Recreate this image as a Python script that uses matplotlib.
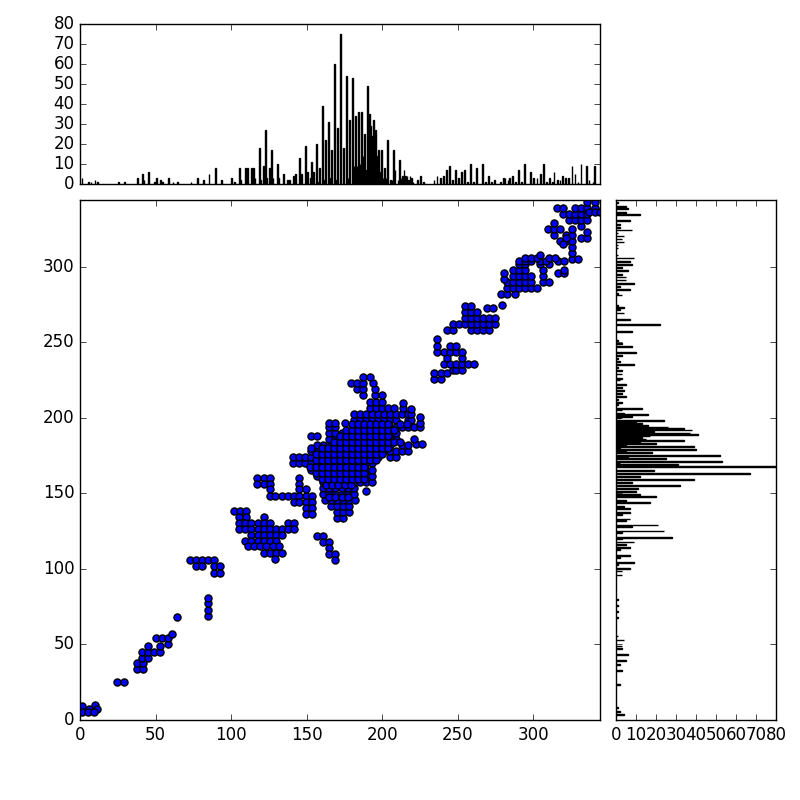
import numpy as np
import matplotlib
matplotlib.use('Agg')
import matplotlib.pyplot as plt

plt.style.use('classic')

row_y = [
    9.5, 10, 7.3, 5.6, 25.3, 33.9, 37.9, 41.2, 45.2, 49.1, 50.5, 54.5, 57.1, 68.4,
    69.1, 73.1, 77.1, 81, 105.6, 101.6, 97.4,
    138.1, 134.1, 130.1, 126.1, 122.1, 118.1, 115.3, 110.2, 106.2,
    121.5, 117.5, 113.5, 109.5, 105.6,
    160.4, 156.4, 152.5, 148.5, 144.5, 140.5, 136.5,
    133.7, 137.7, 141.7, 145.7, 149.7, 153.7, 151.7, 157.7, 161.7, 165.7, 169.7, 173.7, 177.7, 181.7, 182.7, 185.7, 187.7, 179.7,
    189.7, 193.7, 196.7, 198.7, 200.7, 202.7, 205.7, 206.7, 209.7, 210.7, 214.7, 218.7, 222.7, 226.7,
    147.7, 155.7, 159.7, 163.7, 167.7, 171.7, 175.7, 180.2, 183.7, 188.2, 191.7, 195.7,
    225.4, 229.3, 231.6, 235.3, 239.3, 243.7, 247.7, 251.9,
    257.7, 261.9, 265.8, 269.8, 273.8, 272.5, 274.5,
    281.8, 285.7, 289.7, 291.7, 295.7, 293.7, 297.7, 301.5, 303.7, 305.7, 307.9, 305, 309, 313,
    316.9, 320.9, 324.9, 318.9, 315, 322.9, 326.9, 328.9, 330.9, 334.9, 338.9, 336.2, 342.8,
]
row_x = [
    [1.2], [9.8], [6, 11.1], [1.2, 5.2, 9.4], [24.8, 29], [37.4, 41.6], [37.4, 41.6], [40.9, 44.9],
    [40.9, 44.9, 48.9, 52.6], [44.9, 52.6], [57.9], [50, 54, 58.1], [60.8], [63.9],
    [84.6], [84.6], [84.6], [84.6], [72.5, 76.5, 80.7, 84.6, 88.6], [76.5, 80.7, 88.6, 92.6], [88.6, 92.6],
    [101.6, 105.8, 109.8], [105.4, 109.8, 121.7],
    [105.4, 109.4, 113.3, 117.7, 121.7, 125.7, 137.4, 141.4],
    [105.4, 109.4, 113.3, 117.7, 121.7, 125.7, 129.7, 133.6, 137.4, 141.4],
    [113.3, 117.7, 121.7, 125.7, 129.7, 133.6], [108.9, 113.3, 117.7, 121.7, 125.7, 129.7],
    [110.9, 114.9, 119.1, 123.1, 127.5, 131.4], [121.7, 125.7, 129.7, 133.6], [129],
    [156.6, 160.6], [160.6, 164.5], [164.5], [164.5, 168.5], [168.5],
    [117.4, 121.4, 125.4, 145.2], [117.4, 121.4, 125.4, 145.2], [125.4, 145.2, 149.2],
    [125.4, 129.3, 133.3, 137.3, 141.3, 145.2, 149.2, 153.2], [141.3, 145.2, 149.2, 153.2],
    [149.2, 153.2], [149.2, 153.2],
    [170, 174], [170, 174, 178], [166, 170, 174, 178], [162, 166, 170, 174, 178, 182],
    [161, 165, 169, 173, 177, 181], [161, 165, 169, 173, 177, 181], [189],
    [161, 165, 169, 173, 177, 181, 185, 189, 193],
    [157, 161, 165, 169, 173, 177, 181, 185, 189, 193],
    [153, 157, 161, 165, 169, 173, 177, 181, 185, 189, 193],
    [141, 145, 149, 153, 157, 161, 165, 169, 173, 177, 181, 185, 189, 193],
    [141, 145, 149, 153, 157, 161, 165, 169, 173, 177, 181, 185, 189, 193, 197, 205, 209],
    [153, 157, 161, 165, 169, 173, 177, 181, 185, 189, 193, 197, 201, 205, 209, 213, 217],
    [157, 161, 165, 169, 173, 177, 181, 185, 189, 193, 197, 201, 205, 213, 217],
    [222, 226],
    [165, 169, 173, 177, 181, 185, 189, 193, 197, 201, 205, 209, 221],
    [153, 157], [153],
    [165, 169, 173, 177, 181, 185, 189, 193, 197, 201, 205, 209],
    [165, 169, 181, 185, 189, 193, 197, 201, 205, 209, 213, 217, 221, 225],
    [165, 169, 175, 225],
    [181, 185, 189, 193, 197, 201, 205, 209, 217, 219],
    [225],
    [181, 185, 189, 193, 197, 201, 205, 209, 213, 217, 219],
    [219], [192, 196, 200, 204, 208, 214], [214], [192, 196, 200], [187, 195, 200],
    [183, 187, 195], [179, 183, 187, 194], [187, 192],
    [165, 169, 173, 177],
    [163, 167, 171, 175, 179],
    [160, 164, 168, 172, 176, 180, 184, 188],
    [156, 160, 164, 168, 172, 176, 180, 184, 188],
    [152, 156, 160, 164, 168, 172, 176, 180, 184, 188],
    [156, 160, 164, 168, 172, 176, 180, 184, 188, 192, 196],
    [156, 160, 164, 168, 172, 176, 180, 184, 188, 192, 196, 200],
    [160, 164, 168, 172, 176, 180, 184, 188, 192, 196, 200, 204],
    [168, 172, 176, 180, 184, 188, 192, 196, 200, 204, 208, 212],
    [172, 176, 180, 184, 188, 192, 196, 200, 204],
    [176, 180, 184, 188, 192, 196, 200, 204, 208],
    [180, 184, 188, 192, 196, 200, 204, 212, 216],
    [234, 238.8], [234, 238.8, 242.8], [246.8, 248.5, 252.5],
    [240.6, 244.6, 248.5, 252.5, 256.5, 260.5], [242.8, 252.5],
    [236.2, 240.6, 244.6, 248.5, 252.5], [236.2, 244.6, 248.5], [236.2],
    [242.8, 246.8, 258.7, 262.7, 266.6, 270.6],
    [246.8, 250.8, 254.7, 258.7, 262.7, 266.6, 270.6, 274.6],
    [254.7, 258.7, 262.7, 266.6, 270.6, 274.6], [254.7, 258.7, 262.7], [254.7, 258.7],
    [269.1, 273.1], [279.2],
    [278.3, 282.3, 287.6], [282.3, 286.3, 290.3, 294.2, 298.2, 302.2],
    [282.3, 286.3, 290.3, 294.2, 298.2, 306.2, 310.1], [280.3], [280.3, 316.1, 320.1],
    [286.3, 290.3, 294.2, 298.2, 306.2], [286.3, 290.3, 294.2, 306.2, 320.1],
    [290.3, 294.2, 304.2, 310.1], [290.3, 294.2, 298.2, 304.2, 308.2, 316.1, 320.1],
    [294.2, 298.2, 302.2, 310.1, 314.1], [304.2], [325.4, 329.4], [325.4], [325.4],
    [317.4, 321.4, 325.4], [313.4, 321.4, 325.4], [309.5, 313.4, 317.4, 325.4],
    [321.4, 331.3, 335.3], [319.4], [335.3], [331.3], [313.4],
    [323.4, 327.4, 331.3, 335.3], [319.4, 323.4, 327.4, 331.3, 335.3],
    [315.4, 319.4, 327.4, 331.3, 335.3, 340.6], [336.6, 340.6, 344], [335.3, 340.6],
]

top_bin = [
    1.3, 5.5, 7.3, 9.9, 11.5, 25.4, 29.4, 38.2, 41.3, 42.4, 45.3, 49.2, 50.6, 53.2, 54.5, 58.5, 61.6, 64.5,
    73.5, 77.5, 81.5, 85.4, 89.4, 93.4, 100.4, 102.2, 105.5, 106.4, 109.5, 110.6, 113.7, 114.6, 115.7,
    118.5, 119.4, 121.6, 122.5, 123.6, 125.6, 126.5, 127.6, 130.5, 131.3, 134.4, 137.3, 138.4, 141.3, 142.4,
    145.3, 146.4, 149.2, 150.3, 152.5, 153.2, 154.5, 156.5, 157.6, 158.5, 160.5, 161.6, 162.5, 164.5, 165.6,
    166.4, 168.4, 169.5, 170.4,
    172.2, 174.4, 176.4, 177.3, 178.4, 180.4, 181.3, 182.4, 183.2, 184.3, 185.2, 186.3, 187.2, 188.3, 189.4,
    190.3, 191.4, 192.3, 193.4, 194.3, 195.4, 196.3, 197.4, 198.2, 199.4, 200.5, 201.3, 202.4, 203.3, 205.3,
    206.4, 207.3, 208.4, 210.4, 211.3, 212.4, 213.3, 214.4, 215.2, 216.4, 217.5, 218.3, 219.4, 220.3, 223.4,
    225.4, 227.4, 234.2, 236.2, 238.4, 240.4, 242.4, 244.4, 246.4, 248.4, 250.3, 252.3, 254.3, 256.3, 258.3,
    260.3, 262.3, 266.2, 268.4, 270.4, 272.4, 274.4, 278.4, 280.4, 281.2, 283.2, 284.3, 286.3, 288.3, 290.3,
    292.3, 294.3, 298.2, 300.2, 302.4, 304.4, 306.4, 308.4, 310.4, 312.4, 313.5, 315.7, 317.5, 319.4, 321.4,
    323.4, 325.4, 327.4, 329.4, 331.4, 335.3, 336.7, 339.3, 340.6,
]
top_count = [
    3, 1, 1, 2, 1, 1, 1, 3, 5, 2, 6, 1, 3, 2, 1, 3, 1, 1,
    1, 3, 2, 5, 8, 2, 3, 1, 8, 2, 8, 8, 8, 8, 3,
    18, 2, 9, 27, 3, 8, 17, 3, 10, 3, 5, 2, 2, 4, 5,
    13, 5, 19, 6, 3, 11, 6, 20, 1, 8, 39, 2, 22, 31, 3,
    17, 60, 2, 28,
    75, 18, 54, 3, 32, 53, 9, 34, 9, 36, 10, 36, 14, 25, 7,
    49, 35, 29, 24, 32, 27, 14, 17, 6, 17, 3, 8, 3, 22, 2,
    2, 17, 7, 2, 12, 3, 4, 7, 4, 4, 2, 4, 3, 1, 2,
    4, 1, 2, 4, 3, 4, 7, 9, 2, 7, 3, 6, 7, 1, 10,
    1, 8, 10, 1, 4, 1, 2, 1, 3, 3, 2, 3, 4, 1, 7,
    1, 10, 6, 3, 3, 5, 10, 1, 3, 1, 6, 2, 2, 4, 3,
    3, 9, 5, 1, 10, 9, 2, 1, 9,
]

right_bin = [
    342.1, 339.5, 338.2, 335.5, 334.2, 330.2, 328, 326, 324.2, 322.2, 320.2, 318.2, 316.2, 314.3, 312.3,
    307.6, 305.6, 303.4, 301.4, 299.4, 297.4, 294.8, 293, 291, 289, 286.8, 285, 282.2, 281.1, 274, 272.9,
    271.8, 269.3, 265.1, 261.4, 257.2, 251.2, 249.2, 247.2, 243.2, 241.2, 239.3, 237.3, 235, 233, 231, 228.9,
    225.8, 224.9, 222, 220, 218, 216, 214, 211.8, 209.8, 208.9, 206.3, 205, 203, 202.1, 201, 200.1, 198.3,
    197, 196.1, 194.8, 193.9, 192.8, 191.9, 190.8, 189.9, 188.8, 187.9, 186.8, 185.9, 184.8, 183.7, 182.8,
    181.7, 180.8, 179.7, 178.9, 177.8, 176.9, 174.9, 173.8, 172.9, 170.9, 170, 168.9,
    167.5, 165.2, 163.2, 161, 159, 157, 155.3, 153, 151.3, 149, 148, 145.1, 143.8, 141.1, 139.8, 137.1, 135.8,
    132.9, 131.8, 129, 127.8, 125, 123.9, 120.8, 119.9, 117.7, 115.9, 114.1, 112.8, 108.8, 107.7, 104.2, 103,
    100, 98.6, 96, 79.6, 75.6, 71.6, 67.6, 55.5, 53, 48.9, 47.5, 43.5, 39.6, 36.9, 32.5, 23.6, 8.1, 5.7, 3.7,
]
right_count = [
    1, 5, 6, 5, 12, 7, 2, 2, 8, 1, 4, 3, 4, 1, 1,
    1, 9, 7, 8, 3, 6, 3, 5, 5, 9, 2, 7, 1, 3, 1, 4,
    2, 4, 7, 22, 8, 1, 3, 8, 10, 3, 1, 2, 9, 1, 3, 3,
    3, 2, 5, 3, 4, 3, 5, 1, 3, 1, 13, 3, 4, 16, 8, 2, 24,
    10, 13, 16, 26, 34, 38, 19, 37, 41, 17, 13, 15, 34, 12, 20,
    5, 39, 2, 40, 5, 18, 52, 6, 25, 53, 2, 31,
    84, 19, 67, 12, 39, 8, 32, 11, 10, 12, 20, 5, 17, 4, 7, 7, 3,
    7, 5, 21, 8, 24, 3, 28, 3, 9, 5, 7, 2, 7, 2, 9, 1,
    7, 3, 3, 1, 1, 1, 1, 1, 4, 3, 3, 6, 5, 2, 3, 2, 1, 2, 4,
]

x_ticks = [0, 50, 100, 150, 200, 250, 300]
y_ticks = [0, 50, 100, 150, 200, 250, 300]
count_ticks = [0, 10, 20, 30, 40, 50, 60, 70, 80]
axis_max = 344

x = np.concatenate([np.asarray(r, dtype=float) for r in row_x])
y = np.repeat(row_y, [len(r) for r in row_x])

fig = plt.figure(figsize=(8, 8), dpi=100, facecolor='white')
ax_main = fig.add_axes([0.1, 0.1, 0.65, 0.65])
ax_top = fig.add_axes([0.1, 0.77, 0.65, 0.2])
ax_right = fig.add_axes([0.77, 0.1, 0.2, 0.65])

ax_main.scatter(x, y, s=26, c='b', edgecolors='k', clip_on=True)
ax_main.set_xlim(0, axis_max)
ax_main.set_ylim(0, axis_max)
ax_main.set_xticks(x_ticks)
ax_main.set_yticks(y_ticks)

ax_top.bar(top_bin, top_count, width=0.5, color='k', edgecolor='k', linewidth=1)
ax_top.set_xlim(0, axis_max)
ax_top.set_ylim(0, 80)
ax_top.set_xticks(x_ticks)
ax_top.set_yticks(count_ticks)
ax_top.set_xticklabels([])

ax_right.barh(right_bin, right_count, height=0.5, color='k', edgecolor='k', linewidth=1)
ax_right.set_ylim(0, axis_max)
ax_right.set_xlim(0, 80)
ax_right.set_yticks(y_ticks)
ax_right.set_xticks(count_ticks)
ax_right.set_yticklabels([])

fig.savefig('out.png', dpi=100, facecolor='white')
